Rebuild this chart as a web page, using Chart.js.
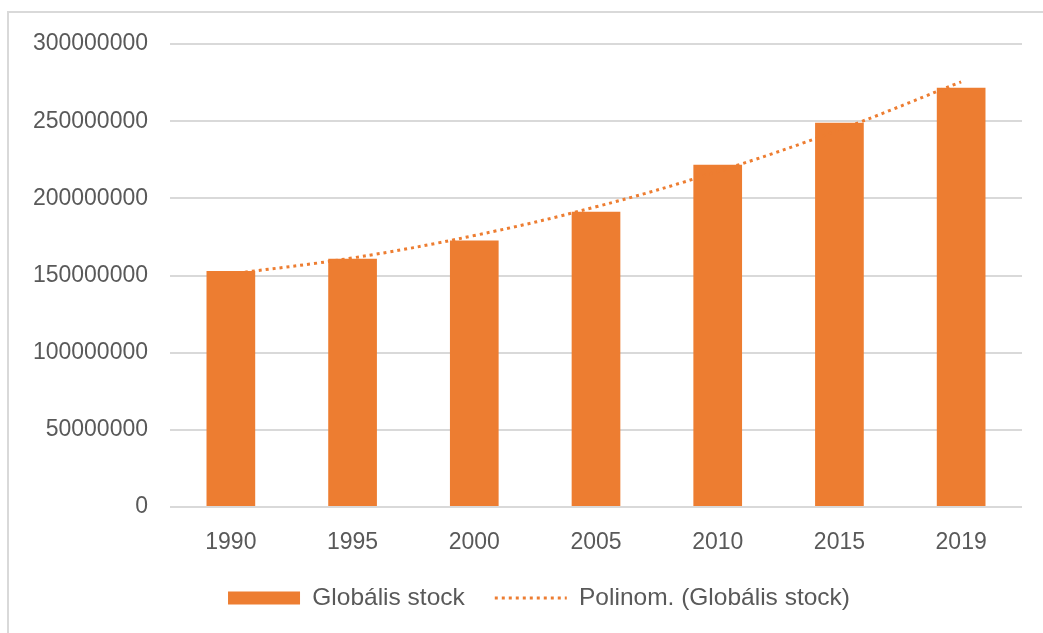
<!DOCTYPE html>
<html>
<head>
<meta charset="utf-8">
<script src="https://cdn.jsdelivr.net/npm/chart.js@4/dist/chart.umd.min.js"></script>
<style>
  body { margin: 0; background: #fff; overflow: hidden; }
  #wrap { position: relative; width: 1043px; height: 633px; }
  #frame { position: absolute; left: 7px; top: 11px; width: 1100px; height: 700px;
           border-left: 2px solid #d9d9d9; border-top: 2px solid #d9d9d9; }
  canvas { position: absolute; left: 0; top: 0; }
</style>
</head>
<body>
<div id="wrap">
  <div id="frame"></div>
  <canvas id="stockChart" width="1043" height="633"></canvas>
</div>
<script>
const years = ['1990', '1995', '2000', '2005', '2010', '2015', '2019'];
const globalStock = [152990000, 160800000, 172700000, 191300000, 221700000, 248900000, 271600000];
// polynomial trendline
const trendValues = [151000000, 161400000, 175900000, 194500000, 217400000, 244400000, 275500000];
const yTickMax = 300000000;
const yTickStep = 50000000;

const orange = '#ED7D31';
const textGray = '#595959';
const gridGray = '#D9D9D9';

Chart.defaults.font.family = '"Liberation Sans", Arial, sans-serif';
Chart.defaults.font.size = 23;
Chart.defaults.color = textGray;

// nudge the legend row a bit to the right, like the original
const legendShift = {
  id: 'legendShift',
  afterLayout(chart) {
    chart.legend.left += 14;
    chart.legend.right += 14;
  }
};

const ctx = document.getElementById('stockChart').getContext('2d');

new Chart(ctx, {
  type: 'bar',
  data: {
    labels: years,
    datasets: [{
      label: 'Globális stock',
      data: globalStock,
      backgroundColor: orange,
      borderWidth: 0,
      barPercentage: 0.4,
      categoryPercentage: 1,
      order: 1
    }, {
      type: 'line',
      label: 'Polinom. (Globális stock)',
      data: trendValues,
      borderColor: orange,
      backgroundColor: orange,
      borderWidth: 3,
      borderDash: [3, 4],
      pointRadius: 0,
      tension: 0.4,
      fill: false,
      order: 0
    }]
  },
  plugins: [legendShift],
  options: {
    responsive: false,
    animation: false,
    layout: {
      padding: { left: 28, right: 21, top: 44, bottom: 12.75 }
    },
    scales: {
      x: {
        grid: { display: false, drawTicks: false },
        border: { display: false },
        ticks: { padding: 22, color: textGray },
        afterFit: function(scale) { scale.height = 48.75; }
      },
      y: {
        min: 0,
        max: yTickMax,
        grid: { color: gridGray, lineWidth: 2, drawTicks: false },
        border: { display: false },
        ticks: {
          stepSize: yTickStep,
          padding: 22,
          color: textGray,
          callback: function(value) { return String(value); }
        },
        afterFit: function(scale) { scale.width = 142; }
      }
    },
    plugins: {
      tooltip: { enabled: false },
      legend: {
        position: 'bottom',
        labels: {
          usePointStyle: true,
          pointStyleWidth: 72,
          boxHeight: 13,
          padding: 30,
          color: textGray,
          font: { size: 24.5 },
          sort: (a, b) => a.datasetIndex - b.datasetIndex,
          generateLabels: function(chart) {
            const items = Chart.defaults.plugins.legend.labels.generateLabels(chart);
            items.forEach(item => {
              if (item.datasetIndex === 1) {
                item.pointStyle = 'line';
                item.lineWidth = 3;
                item.lineDash = [3, 4];
                item.strokeStyle = orange;
              } else {
                item.pointStyle = 'rect';
                item.lineWidth = 0;
                item.fillStyle = orange;
              }
            });
            return items;
          }
        }
      }
    }
  }
});
</script>
</body>
</html>
